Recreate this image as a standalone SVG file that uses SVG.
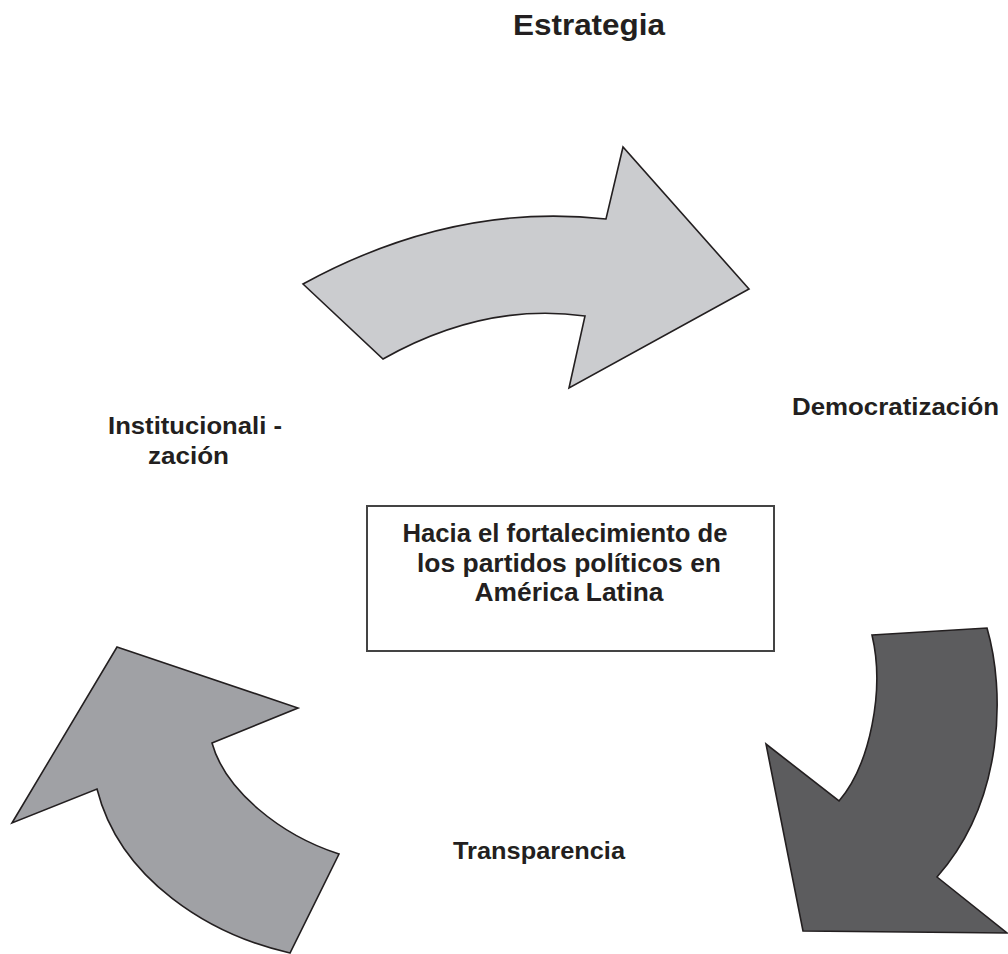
<svg xmlns="http://www.w3.org/2000/svg" width="1008" height="954" viewBox="0 0 1008 954">
<style>
.lbl{font-family:"Liberation Sans",Arial,sans-serif;font-weight:bold;fill:#231f20}
.arr{stroke:#231f20;stroke-width:1.6;stroke-linejoin:miter}
</style>
<rect width="1008" height="954" fill="#ffffff"/>
<g id="title"><text class="lbl" x="589" y="35" font-size="30" text-anchor="middle" textLength="152" lengthAdjust="spacingAndGlyphs">Estrategia</text></g>
<g id="connectors">
<path id="arrow-top" class="arr" fill="#cbcccf" d="M303,284 Q453,202 606,219 L623,147 L749,289 L569,388 L585,316 Q484,302 383,359 Z"/>
<path id="arrow-right" class="arr" fill="#5c5c5e" stroke="#3a3a3a" d="M872,635 L987,628 C1005,690 1005,800 937,877 L1007,933 L803,931 L766,744 L839,801 C870,765 885,690 872,635 Z"/>
<path id="arrow-left" class="arr" fill="#a0a1a5" d="M117,647 L298,708 L212,743 C225,790 280,835 339,854 L290,953 C210,935 120,880 97,789 L12,823 Z"/>
</g>
<g id="democratizacion"><text class="lbl" x="792" y="415" font-size="24" textLength="207" lengthAdjust="spacingAndGlyphs">Democratización</text></g>
<g id="institucionalizacion">
<text class="lbl" x="108" y="434" font-size="24" textLength="174" lengthAdjust="spacingAndGlyphs">Institucionali -</text>
<text class="lbl" x="148" y="464" font-size="24" textLength="81" lengthAdjust="spacingAndGlyphs">zación</text>
</g>
<g id="transparencia"><text class="lbl" x="453" y="859" font-size="24" textLength="172" lengthAdjust="spacingAndGlyphs">Transparencia</text></g>
<g id="center">
<rect x="367" y="506" width="407" height="145" fill="#ffffff" stroke="#444444" stroke-width="2"/>
<text class="lbl" x="565" y="542" font-size="25" text-anchor="middle" textLength="325" lengthAdjust="spacingAndGlyphs">Hacia el fortalecimiento de</text>
<text class="lbl" x="569" y="572" font-size="25" text-anchor="middle" textLength="304" lengthAdjust="spacingAndGlyphs">los partidos políticos en</text>
<text class="lbl" x="569" y="601" font-size="25" text-anchor="middle" textLength="189" lengthAdjust="spacingAndGlyphs">América Latina</text>
</g>
</svg>
